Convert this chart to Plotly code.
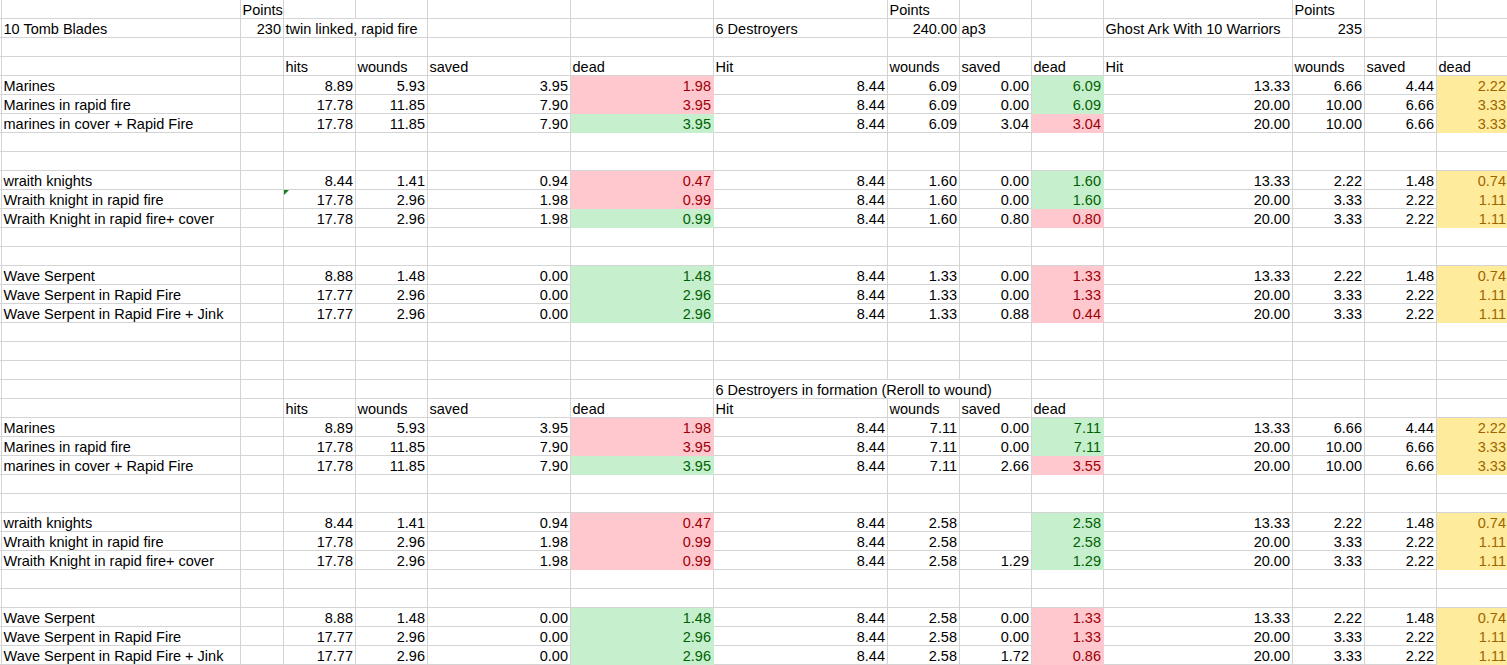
import plotly.graph_objects as go

# ---------------- data ----------------
unit_names = ["10 Tomb Blades", "6 Destroyers", "Ghost Ark With 10 Warriors"]
unit_points = ["230", "240.00", "235"]
unit_notes = ["twin linked, rapid fire", "ap3", ""]
points_label = "Points"
formation_title = "6 Destroyers in formation (Reroll to wound)"
tomb_headers = ["hits", "wounds", "saved", "dead"]
other_headers = ["Hit", "wounds", "saved", "dead"]

targets = ["Marines", "Marines in rapid fire", "marines in cover + Rapid Fire",
           "wraith knights", "Wraith knight in rapid fire", "Wraith Knight in rapid fire+ cover",
           "Wave Serpent", "Wave Serpent in Rapid Fire", "Wave Serpent in Rapid Fire + Jink"]

tomb_hits = [8.89, 17.78, 17.78, 8.44, 17.78, 17.78, 8.88, 17.77, 17.77]
tomb_wounds = [5.93, 11.85, 11.85, 1.41, 2.96, 2.96, 1.48, 2.96, 2.96]
tomb_saved = [3.95, 7.90, 7.90, 0.94, 1.98, 1.98, 0.00, 0.00, 0.00]
tomb_dead = [1.98, 3.95, 3.95, 0.47, 0.99, 0.99, 1.48, 2.96, 2.96]

destroyer_hit = [8.44, 8.44, 8.44, 8.44, 8.44, 8.44, 8.44, 8.44, 8.44]
destroyer_wounds = [6.09, 6.09, 6.09, 1.60, 1.60, 1.60, 1.33, 1.33, 1.33]
destroyer_saved = [0.00, 0.00, 3.04, 0.00, 0.00, 0.80, 0.00, 0.00, 0.88]
destroyer_dead = [6.09, 6.09, 3.04, 1.60, 1.60, 0.80, 1.33, 1.33, 0.44]

formation_hit = [8.44, 8.44, 8.44, 8.44, 8.44, 8.44, 8.44, 8.44, 8.44]
formation_wounds = [7.11, 7.11, 7.11, 2.58, 2.58, 2.58, 2.58, 2.58, 2.58]
formation_saved = [0.00, 0.00, 2.66, None, None, 1.29, 0.00, 0.00, 1.72]
formation_dead = [7.11, 7.11, 3.55, 2.58, 2.58, 1.29, 1.33, 1.33, 0.86]

ghost_hit = [13.33, 20.00, 20.00, 13.33, 20.00, 20.00, 13.33, 20.00, 20.00]
ghost_wounds = [6.66, 10.00, 10.00, 2.22, 3.33, 3.33, 2.22, 3.33, 3.33]
ghost_saved = [4.44, 6.66, 6.66, 1.48, 2.22, 2.22, 1.48, 2.22, 2.22]
ghost_dead = [2.22, 3.33, 3.33, 0.74, 1.11, 1.11, 0.74, 1.11, 1.11]

# ---------------- layout / style ----------------
W, H = 1507, 665
ROW_H = 19
N_ROWS = 35
COL_LINES = [1, 240, 283, 355, 427, 570, 713, 887, 959, 1031, 1103, 1292, 1364, 1436, 1508]
TOP_ROWS = [4, 5, 6, 9, 10, 11, 14, 15, 16]
LOW_ROWS = [22, 23, 24, 27, 28, 29, 32, 33, 34]
FS = 14.5
FONT = "Liberation Sans, Arial, sans-serif"
BLACK = "#000000"
GRID = "#D4D4D4"
BAD = ("#FFC7CE", "#9C0006")
GOOD = ("#C6EFCE", "#006100")
NEUTRAL = ("#FFEB9C", "#9C6500")

cells = []   # (row, col, text, align, color, span)
fills = []   # (row, col, fillcolor)


def add(r, c, text, align="left", color=BLACK, span=1):
    cells.append((r, c, text, align, color, span))


def fmt(v):
    return "" if v is None else f"{v:.2f}"


def block(rows, start_col, columns, styles):
    for i, r in enumerate(rows):
        for j, vals in enumerate(columns):
            v = vals[i]
            if v is None:
                continue
            color = BLACK
            if j == 3:
                fills.append((r, start_col + j, styles[i][0]))
                color = styles[i][1]
            add(r, start_col + j, fmt(v), "right", color)


def compare(a, b):
    sa, sb = [], []
    for x, y in zip(a, b):
        if x > y:
            sa.append(GOOD); sb.append(BAD)
        else:
            sa.append(BAD); sb.append(GOOD)
    return sa, sb


# header rows
for c in (1, 7, 11):
    add(0, c, points_label)
add(1, 0, unit_names[0])
add(1, 1, unit_points[0], "right")
add(1, 2, unit_notes[0], span=2)
add(1, 6, unit_names[1])
add(1, 7, unit_points[1], "right")
add(1, 8, unit_notes[1])
add(1, 10, unit_names[2])
add(1, 11, unit_points[2], "right")
for j, h in enumerate(tomb_headers + other_headers + other_headers):
    add(3, 2 + j, h)
add(20, 6, formation_title, span=3)
for j, h in enumerate(tomb_headers + other_headers):
    add(21, 2 + j, h)

for rows in (TOP_ROWS, LOW_ROWS):
    for i, r in enumerate(rows):
        add(r, 0, targets[i])

st_t, st_d = compare(tomb_dead, destroyer_dead)
block(TOP_ROWS, 2, [tomb_hits, tomb_wounds, tomb_saved, tomb_dead], st_t)
block(TOP_ROWS, 6, [destroyer_hit, destroyer_wounds, destroyer_saved, destroyer_dead], st_d)
block(TOP_ROWS, 10, [ghost_hit, ghost_wounds, ghost_saved, ghost_dead], [NEUTRAL] * 9)
st_t2, st_f = compare(tomb_dead, formation_dead)
block(LOW_ROWS, 2, [tomb_hits, tomb_wounds, tomb_saved, tomb_dead], st_t2)
block(LOW_ROWS, 6, [formation_hit, formation_wounds, formation_saved, formation_dead], st_f)
block(LOW_ROWS, 10, [ghost_hit, ghost_wounds, ghost_saved, ghost_dead], [NEUTRAL] * 9)

fig = go.Figure()

# ---- gridlines ----
hidden = set()
for (r, c, t, a, col, span) in cells:
    for k in range(1, span):
        hidden.add((r, c + k))
gx, gy = [], []
for r in range(N_ROWS):
    yl = ROW_H * r + ROW_H - 0.5
    gx += [0, W, None]
    gy += [yl, yl, None]
for b in range(len(COL_LINES) - 1):
    xl = COL_LINES[b] + 0.5
    start = 0
    for r in range(N_ROWS + 1):
        if r == N_ROWS or (r, b) in hidden:
            if r > start:
                gx += [xl, xl, None]
                gy += [max(ROW_H * start - 1, 0), ROW_H * r, None]
            start = r + 1
fig.add_trace(go.Scatter(x=gx, y=gy, mode="lines", line=dict(color=GRID, width=1),
                         hoverinfo="skip", showlegend=False))

# ---- fills ----
by_color = {}
for (r, c, fc) in fills:
    x0 = COL_LINES[c] + 1
    x1 = min(COL_LINES[c + 1] + 1, W)
    y0 = ROW_H * r
    y1 = ROW_H * r + ROW_H
    xs, ys = by_color.setdefault(fc, ([], []))
    xs += [x0, x1, x1, x0, x0, None]
    ys += [y0, y0, y1, y1, y0, None]
for fc, (xs, ys) in by_color.items():
    fig.add_trace(go.Scatter(x=xs, y=ys, mode="lines", fill="toself", fillcolor=fc,
                             line=dict(width=0, color=fc), hoverinfo="skip", showlegend=False))

# error indicator triangle
tx = COL_LINES[2] + 1
ty = ROW_H * 10
fig.add_trace(go.Scatter(x=[tx, tx + 5, tx, tx], y=[ty, ty, ty + 5, ty], mode="lines",
                         fill="toself", fillcolor="#1A7F1A", line=dict(width=0, color="#1A7F1A"),
                         hoverinfo="skip", showlegend=False))

# ---- text ----
for align in ("left", "right"):
    xs, ys, ts, cs = [], [], [], []
    for (r, c, t, a, col, span) in cells:
        if a != align:
            continue
        if align == "left":
            xs.append(COL_LINES[c] + 2.5)
        else:
            xs.append(COL_LINES[c + 1] - 2)
        ys.append(ROW_H * r + 15.3 - 0.25 * FS)
        ts.append(t)
        cs.append(col)
    fig.add_trace(go.Scatter(x=xs, y=ys, text=ts, mode="text",
                             textposition="middle right" if align == "left" else "middle left",
                             textfont=dict(family=FONT, size=FS, color=cs),
                             hoverinfo="skip", showlegend=False, cliponaxis=False))

fig.update_layout(
    width=W, height=H, autosize=False,
    margin=dict(l=0, r=0, t=0, b=0, pad=0),
    paper_bgcolor="white", plot_bgcolor="white",
    xaxis=dict(range=[0, W], visible=False, fixedrange=True),
    yaxis=dict(range=[H, 0], visible=False, fixedrange=True),
    showlegend=False,
)

fig.write_html("out.html", config={"displayModeBar": False, "staticPlot": True},
               post_script="document.body.style.margin='0px';document.body.style.overflow='hidden';")
